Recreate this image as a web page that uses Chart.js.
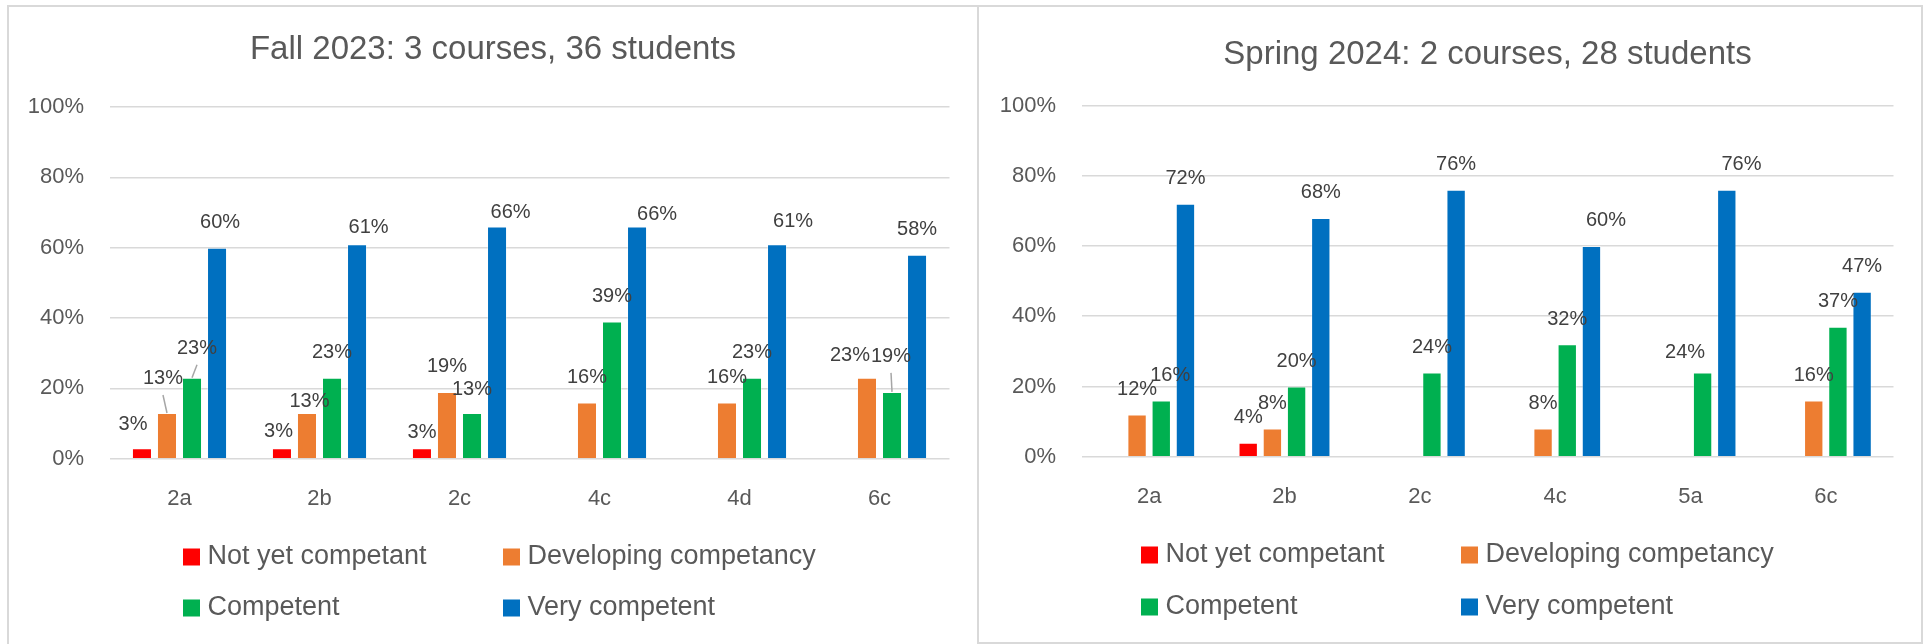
<!DOCTYPE html>
<html>
<head>
<meta charset="utf-8">
<script src="https://cdn.jsdelivr.net/npm/chart.js@4.4.1/dist/chart.umd.min.js"></script>
<style>
    body { margin: 0; background: #fff; width: 1929px; height: 644px; overflow: hidden; position: relative; }
    .panel { position: absolute; box-sizing: border-box; border: 2px solid #d9d9d9; }
    #fallPanel { left: 7px; top: 5px; width: 972px; height: 645px; border-bottom: none; }
    #springPanel { left: 977px; top: 5px; width: 946px; height: 639px; }
    canvas { position: absolute; }
    #fallChart { left: 9px; top: 7px; }
    #springChart { left: 981px; top: 7px; }
</style>
</head>
<body>
<div class="panel" id="fallPanel"></div>
<div class="panel" id="springPanel"></div>
<canvas id="fallChart" width="968" height="633"></canvas>
<canvas id="springChart" width="940" height="633"></canvas>

<script>
// Series names + colours (shared by both charts)
const seriesNames = ["Not yet competant", "Developing competancy", "Competent", "Very competent"];
const seriesColors = ["#FF0000", "#ED7D31", "#00B050", "#0070C0"];

// Fall 2023
const fallCategories = ["2a", "2b", "2c", "4c", "4d", "6c"];
const fallNotYet = [3, 3, 3, null, null, null];
const fallDeveloping = [13, 13, 19, 16, 16, 23];
const fallCompetent = [23, 23, 13, 39, 23, 19];
const fallVery = [60, 61, 66, 66, 61, 58];

// Spring 2024
const springCategories = ["2a", "2b", "2c", "4c", "5a", "6c"];
const springNotYet = [null, 4, null, null, null, null];
const springDeveloping = [12, 8, null, 8, null, 16];
const springCompetent = [16, 20, 24, 32, 24, 37];
const springVery = [72, 68, 76, 60, 76, 47];

const yTicks = [0, 20, 40, 60, 80, 100];

// label nudges ("dataset-category": [dx, dy]) where labels were moved by hand
const fallNudges = {
    "0-0": [-9, 1], "1-0": [-4, -9], "2-0": [5, -4], "3-0": [3, 0],
    "0-1": [-3.5, 8], "1-1": [2.5, 14], "3-1": [11.5, 8],
    "0-2": [0, 9], "2-2": [0, 2], "3-2": [13.5, 10.5],
    "3-3": [20, 12.5],
    "3-4": [16, 2],
    "1-5": [-17, 3], "2-5": [-1, -10]
};
const fallLeaders = ["1-0", "2-0", "2-5"];
const springNudges = {
    "2-0": [9, 0], "3-3": [14.5, 0], "2-4": [-17.5, 5], "3-4": [14.7, 0]
};
const springLeaders = [];

const FONT = '"Liberation Sans", Arial, sans-serif';
Chart.defaults.font.family = FONT;

function makeLabelPlugin(nudges, leaders) {
    return {
        id: "barLabels",
        afterDatasetsDraw(chart) {
            const ctx = chart.ctx;
            ctx.save();
            ctx.font = "20px " + FONT;
            ctx.textAlign = "center";
            ctx.textBaseline = "middle";
            chart.data.datasets.forEach((ds, di) => {
                chart.getDatasetMeta(di).data.forEach((bar, i) => {
                    const v = ds.data[i];
                    if (v === null || v === undefined) return;
                    const key = di + "-" + i;
                    const n = nudges[key] || [0, 0];
                    const x = bar.x + n[0];
                    const y = bar.y - 25 + n[1];
                    if (leaders.includes(key)) {
                        ctx.strokeStyle = "#a6a6a6";
                        ctx.lineWidth = 1.5;
                        ctx.beginPath();
                        ctx.moveTo(x, y + 16);
                        ctx.lineTo(bar.x, bar.y);
                        ctx.stroke();
                    }
                    ctx.fillStyle = "#404040";
                    ctx.fillText(v + "%", x, y);
                });
            });
            ctx.restore();
        }
    };
}

// two-column legend like Excel's
function makeLegendPlugin(rowY) {
    return {
        id: "gridLegend",
        afterDraw(chart) {
            const ctx = chart.ctx;
            const items = chart.data.datasets;
            ctx.save();
            ctx.font = "27px " + FONT;
            ctx.textAlign = "left";
            ctx.textBaseline = "middle";
            const colStep = 320;
            const left = chart.width / 2 - 310;
            items.forEach((ds, i) => {
                const x = left + (i % 2) * colStep;
                const y = rowY[Math.floor(i / 2)];
                ctx.fillStyle = ds.backgroundColor;
                ctx.fillRect(x, y - 8.5, 17, 17);
                ctx.fillStyle = "#595959";
                ctx.fillText(ds.label, x + 24.5, y);
            });
            ctx.restore();
        }
    };
}

function buildDatasets(seriesData) {
    return seriesData.map((data, i) => ({
        label: seriesNames[i],
        data: data,
        backgroundColor: seriesColors[i],
        borderColor: "rgba(255,255,255,0.35)",
        borderWidth: 1,
        categoryPercentage: 0.715,
        barPercentage: 0.8
    }));
}

function createBarChart(canvasId, title, titlePad, titleFullSize, categories, seriesData, bottomPad, rowY, nudges, leaders) {
    const ctx = document.getElementById(canvasId).getContext("2d");

    return new Chart(ctx, {
        type: "bar",
        data: {
            labels: categories,
            datasets: buildDatasets(seriesData)
        },
        options: {
            responsive: false,
            animation: false,
            layout: { padding: { left: 0, right: 0, top: 0, bottom: bottomPad } },
            plugins: {
                legend: { display: false },
                tooltip: { enabled: false },
                title: {
                    display: true,
                    text: title,
                    color: "#595959",
                    fullSize: titleFullSize,
                    font: { size: 33, weight: "normal" },
                    padding: titlePad
                }
            },
            scales: {
                x: {
                    grid: { display: false, drawTicks: false },
                    border: { display: false },
                    ticks: { color: "#595959", font: { size: 22 }, padding: 27 },
                    afterFit: s => { s.height = 60; }
                },
                y: {
                    min: yTicks[0],
                    max: yTicks[yTicks.length - 1],
                    afterBuildTicks: s => { s.ticks = yTicks.map(v => ({ value: v })); },
                    ticks: { color: "#595959", font: { size: 22 }, padding: 25.5, callback: v => v + "%" },
                    grid: { color: "#d9d9d9", lineWidth: 1.5, drawTicks: false },
                    border: { display: false },
                    afterFit: s => { s.width = 100.5; }
                },
                // empty right axis, only keeps the gap on the right of the plot
                gap: {
                    axis: "y",
                    position: "right",
                    grid: { display: false, drawTicks: false },
                    border: { display: false },
                    ticks: { display: false },
                    afterFit: s => { s.width = 27.5; }
                }
            }
        },
        plugins: [makeLabelPlugin(nudges, leaders), makeLegendPlugin(rowY)]
    });
}

createBarChart("fallChart", "Fall 2023: 3 courses, 36 students", { top: 22.7, bottom: 37.7 }, true,
    fallCategories, [fallNotYet, fallDeveloping, fallCompetent, fallVery], 121.3, [550, 601], fallNudges, fallLeaders);

createBarChart("springChart", "Spring 2024: 2 courses, 28 students", { top: 28.5, bottom: 30.4 }, false,
    springCategories, [springNotYet, springDeveloping, springCompetent, springVery], 123.3, [548, 600], springNudges, springLeaders);
</script>
</body>
</html>
